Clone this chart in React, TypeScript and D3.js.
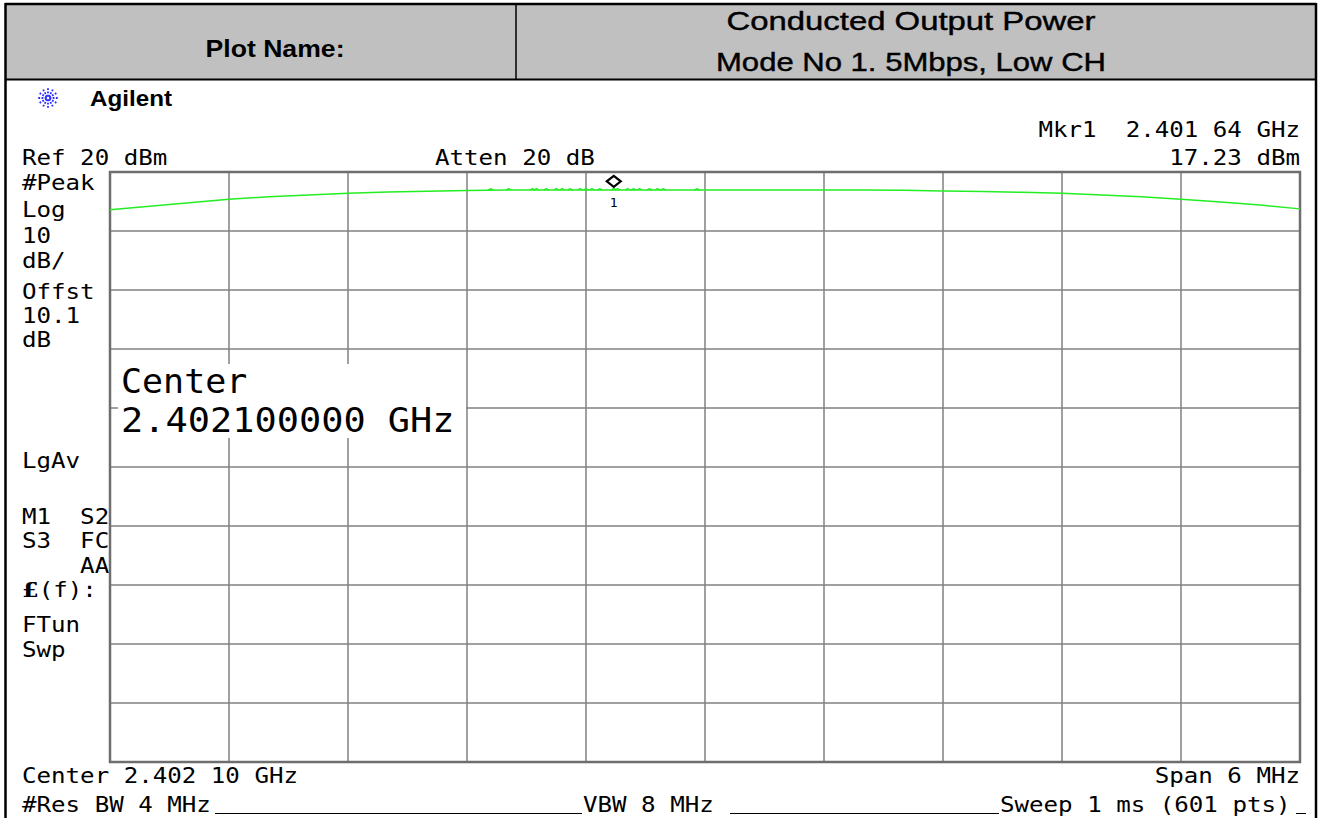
import React, { useEffect } from "react";
import * as d3 from "d3";

// ---- data ----
const headerLabel = "Plot Name:";
const titleLines = ["Conducted Output Power", "Mode No 1. 5Mbps, Low CH"];

const centerGHz = 2.4021;
const spanMHz = 6;
const refLevel = 20; // dBm
const dbPerDiv = 10;
const nDivs = 10;

// trace: frequency offset from center (MHz) and level (dBm)
const traceFreq = [
  -3.0, -2.8, -2.6, -2.4, -2.2, -2.0, -1.8, -1.6, -1.4, -1.2, -1.0, -0.8, -0.6, -0.4,
  -0.2, 0.0, 0.2, 0.4, 0.6, 0.8, 1.0, 1.2, 1.4, 1.6, 1.8, 2.0, 2.2, 2.4, 2.6, 2.8, 3.0,
];
const traceLevel = [
  13.6, 14.2, 14.8, 15.4, 15.8, 16.1, 16.4, 16.6, 16.75, 16.85, 16.95, 16.95, 16.95, 16.95,
  16.95, 16.95, 16.95, 16.95, 16.95, 16.95, 16.9, 16.8, 16.7, 16.55, 16.4, 16.1, 15.8, 15.4,
  14.9, 14.4, 13.75,
];
// small noise blips on the plateau
const spikeFreq = [
  -1.08, -0.99, -0.87, -0.85, -0.8, -0.75, -0.72, -0.68, -0.63, -0.6, -0.57,
  -0.53, -0.46, -0.44, -0.39, -0.36, -0.33, -0.28, -0.24, -0.21, -0.04,
];
const spikeBase = 16.95;
const spikePeak = [
  17.15, 17.2, 17.2, 17.2, 17.15, 17.2, 17.2, 17.15, 17.2, 17.2, 17.2,
  17.15, 17.23, 17.2, 17.2, 17.15, 17.2, 17.15, 17.2, 17.15, 17.15,
];
const markerFreqGHz = 2.40164;
const markerLevel = 17.23;

const leftLabels = [
  { t: "#Peak", y: 190 },
  { t: "Log", y: 217 },
  { t: "10", y: 243 },
  { t: "dB/", y: 268 },
  { t: "Offst", y: 299 },
  { t: "10.1", y: 323 },
  { t: "dB", y: 347 },
  { t: "LgAv", y: 468 },
  { t: "M1  S2", y: 524 },
  { t: "S3  FC", y: 548 },
  { t: "    AA", y: 573 },
  { t: "FTun", y: 632 },
  { t: "Swp", y: 657 },
];

const mono = "'DejaVu Sans Mono', 'Liberation Mono', monospace";

function MonoText(props: {
  x: number;
  y: number;
  anchor?: "start" | "end" | "middle";
  size?: number;
  sx?: number;
  children: React.ReactNode;
}) {
  const { x, y, anchor = "start", size = 21, sx = 1.15, children } = props;
  return (
    <text
      transform={`translate(${x},${y}) scale(${sx},1)`}
      textAnchor={anchor}
      fontFamily={mono}
      fontSize={size}
      style={{ whiteSpace: "pre" }}
    >
      {children}
    </text>
  );
}

export default function App() {
  useEffect(() => {
    document.body.style.margin = "0";
  }, []);

  const W = 1323;
  const H = 818;
  const L = 110, R = 1300, T = 172, B = 762;

  const x = d3.scaleLinear().domain([-spanMHz / 2, spanMHz / 2]).range([L, R]);
  const y = d3
    .scaleLinear()
    .domain([refLevel - dbPerDiv * nDivs, refLevel])
    .range([B, T]);

  const xTicks = d3.range(0, nDivs + 1).map((i) => -spanMHz / 2 + (i * spanMHz) / nDivs);
  const yTicks = d3.range(0, nDivs + 1).map((i) => refLevel - i * dbPerDiv);

  const line = d3
    .line<number>()
    .x((_, i) => x(traceFreq[i]))
    .y((d) => y(d));
  const tracePath = line(traceLevel) || "";

  const mx = x((markerFreqGHz - centerGHz) * 1000);
  const my = y(markerLevel) - 7;

  const gridColor = "#808080";
  const green = "#22ee22";

  return (
    <svg
      width={W}
      height={H}
      style={{ position: "absolute", left: 0, top: 0, background: "#fff" }}
    >
      <rect x={0} y={0} width={W} height={H} fill="#fff" />
      {/* header */}
      <rect x={5} y={4} width={1311} height={75} fill="#c0c0c0" />
      <line x1={5} x2={1316} y1={4} y2={4} stroke="#000" strokeWidth={2.5} />
      <line x1={5} x2={1316} y1={79.5} y2={79.5} stroke="#000" strokeWidth={2} />
      <line x1={516} x2={516} y1={4} y2={79} stroke="#000" strokeWidth={1.5} />
      <line x1={5.5} x2={5.5} y1={3} y2={H} stroke="#000" strokeWidth={2.5} />
      <line x1={1316} x2={1316} y1={3} y2={H} stroke="#000" strokeWidth={2.5} />
      <text
        x={275}
        y={57}
        textAnchor="middle"
        fontFamily="'Liberation Sans', Arial, sans-serif"
        fontWeight="bold"
        fontSize={24}
        textLength={139}
        lengthAdjust="spacingAndGlyphs"
      >
        {headerLabel}
      </text>
      <text
        x={911}
        y={30}
        textAnchor="middle"
        fontFamily="'Liberation Sans', Arial, sans-serif"
        fontSize={25}
        stroke="#000"
        strokeWidth={0.4}
        textLength={369}
        lengthAdjust="spacingAndGlyphs"
      >
        {titleLines[0]}
      </text>
      <text
        x={911}
        y={71}
        textAnchor="middle"
        fontFamily="'Liberation Sans', Arial, sans-serif"
        fontSize={25}
        stroke="#000"
        strokeWidth={0.4}
        textLength={390}
        lengthAdjust="spacingAndGlyphs"
      >
        {titleLines[1]}
      </text>

      {/* Agilent logo */}
      <g stroke="#2a2aff" strokeWidth={1.8} strokeDasharray="1.8,1.4">
        {d3.range(0, 12).map((i) => {
          const a = (i * Math.PI) / 6;
          return (
            <line
              key={i}
              x1={48 + Math.cos(a) * 1.5}
              y1={98 + Math.sin(a) * 1.5}
              x2={48 + Math.cos(a) * 10}
              y2={98 + Math.sin(a) * 10}
            />
          );
        })}
      </g>
      <text
        x={90}
        y={106}
        fontFamily="'Liberation Sans', Arial, sans-serif"
        fontWeight="bold"
        fontSize={22}
        textLength={82}
        lengthAdjust="spacingAndGlyphs"
      >
        Agilent
      </text>

      {/* top annotations */}
      <MonoText x={1300} y={137} anchor="end">
        {"Mkr1  2.401 64 GHz"}
      </MonoText>
      <MonoText x={22} y={165}>Ref 20 dBm</MonoText>
      <MonoText x={435} y={165}>Atten 20 dB</MonoText>
      <MonoText x={1300} y={165} anchor="end">
        17.23 dBm
      </MonoText>

      {/* left annotations */}
      {leftLabels.map((l) => (
        <MonoText key={l.t + l.y} x={22} y={l.y}>
          {l.t}
        </MonoText>
      ))}
      <MonoText x={22} y={597}>
        <tspan fontWeight="bold" fontFamily="'DejaVu Serif', serif">£</tspan>
        <tspan>(f):</tspan>
      </MonoText>

      {/* grid */}
      <g stroke={gridColor} strokeWidth={1.5}>
        {xTicks.slice(1, -1).map((t) => (
          <line key={"x" + t} x1={x(t)} x2={x(t)} y1={T} y2={B} />
        ))}
        {yTicks.slice(1, -1).map((t) => (
          <line key={"y" + t} x1={L} x2={R} y1={y(t)} y2={y(t)} />
        ))}
      </g>
      <rect
        x={L}
        y={T}
        width={R - L}
        height={B - T}
        fill="none"
        stroke="#6e6e6e"
        strokeWidth={2.5}
      />

      {/* big center annotation */}
      <rect x={118} y={364} width={348} height={74} fill="#fff" />
      <MonoText x={121} y={393} size={33} sx={1.06}>
        Center
      </MonoText>
      <MonoText x={121} y={432} size={33} sx={1.12}>
        2.402100000 GHz
      </MonoText>

      {/* trace */}
      <path d={tracePath} fill="none" stroke={green} strokeWidth={1.5} />
      <g fill="none" stroke={green} strokeWidth={1.4}>
        {spikeFreq.map((f, i) => (
          <path
            key={i}
            d={`M${x(f) - 2.5},${y(spikeBase)}L${x(f)},${y(spikePeak[i])}L${x(f) + 2.5},${y(spikeBase)}`}
          />
        ))}
      </g>

      {/* marker */}
      <path
        d={`M${mx},${my - 5.5}L${mx + 7},${my}L${mx},${my + 5.5}L${mx - 7},${my}Z`}
        fill="#fff"
        stroke="#000"
        strokeWidth={2.2}
      />
      <MonoText x={mx} y={207} anchor="middle" size={13} sx={1}>
        1
      </MonoText>

      {/* bottom annotations */}
      <MonoText x={22} y={783}>Center 2.402 10 GHz</MonoText>
      <MonoText x={1300} y={783} anchor="end">
        Span 6 MHz
      </MonoText>
      <MonoText x={22} y={812}>#Res BW 4 MHz</MonoText>
      <MonoText x={583} y={812}>VBW 8 MHz</MonoText>
      <MonoText x={1000} y={812}>Sweep 1 ms (601 pts)</MonoText>
      <g stroke="#000" strokeWidth={1}>
        <line x1={215} x2={582} y1={813.5} y2={813.5} />
        <line x1={730} x2={999} y1={813.5} y2={813.5} />
        <line x1={1296} x2={1306} y1={813.5} y2={813.5} />
      </g>
    </svg>
  );
}
